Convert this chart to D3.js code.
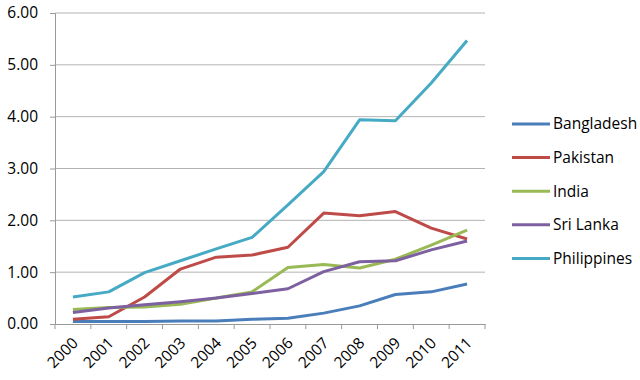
<!DOCTYPE html>
<html>
<head>
  <script src="https://d3js.org/d3.v7.min.js"></script>
  <style>
    body { margin: 0; background: #fff; }
    text { font-family: "Open Sans", "DejaVu Sans", sans-serif; fill: #000; }
  </style>
</head>
<body>
<svg id="chart" width="640" height="380"></svg>
<script>
const years = ["2000","2001","2002","2003","2004","2005","2006","2007","2008","2009","2010","2011"];
const yTicks = [0, 1, 2, 3, 4, 5, 6];

const bangladesh  = [0.05, 0.05, 0.05, 0.06, 0.06, 0.09, 0.11, 0.21, 0.35, 0.57, 0.62, 0.77];
const pakistan    = [0.09, 0.14, 0.52, 1.06, 1.29, 1.33, 1.48, 2.14, 2.09, 2.17, 1.85, 1.64];
const india       = [0.28, 0.32, 0.33, 0.38, 0.50, 0.62, 1.09, 1.15, 1.08, 1.25, 1.52, 1.81];
const sriLanka    = [0.22, 0.31, 0.37, 0.43, 0.50, 0.59, 0.68, 1.01, 1.20, 1.22, 1.43, 1.60];
const philippines = [0.52, 0.62, 0.99, 1.22, 1.45, 1.67, 2.30, 2.94, 3.94, 3.92, 4.65, 5.47];

const seriesNames  = ["Bangladesh", "Pakistan", "India", "Sri Lanka", "Philippines"];
const seriesValues = [bangladesh, pakistan, india, sriLanka, philippines];
const seriesColors = ["#4A7EBB", "#BE4B48", "#98B954", "#7D60A0", "#46AAC5"];

const svg = d3.select("#chart");
const plotLeft = 55, plotRight = 485, plotTop = 13, plotBottom = 324;

const x = d3.scaleBand().domain(years).range([plotLeft, plotRight]);
const y = d3.scaleLinear().domain([0, 6]).range([plotBottom, plotTop]);

// gridlines
svg.append("g")
  .selectAll("line")
  .data(yTicks.filter(d => d > 0))
  .enter().append("line")
  .attr("x1", plotLeft).attr("x2", plotRight)
  .attr("y1", d => y(d)).attr("y2", d => y(d))
  .attr("stroke", "#b3b3b3").attr("stroke-width", 1);

// y axis
const yAxis = svg.append("g")
  .attr("transform", `translate(${plotLeft},0)`)
  .call(d3.axisLeft(y).tickValues(yTicks).tickFormat(d3.format(".2f")).tickSize(5).tickPadding(12));
yAxis.select(".domain").attr("stroke", "#999");
yAxis.selectAll(".tick line").attr("stroke", "#999");
yAxis.selectAll("text").style("font-size", "15.5px");

// x axis
const xAxis = svg.append("g")
  .attr("transform", `translate(0,${plotBottom})`)
  .call(d3.axisBottom(x).tickSize(0).tickPadding(0));
xAxis.select(".domain").attr("stroke", "#999");
xAxis.selectAll(".tick line").remove();
xAxis.selectAll("text")
  .style("font-size", "15.5px")
  .attr("text-anchor", "end")
  .attr("dy", null)
  .attr("y", 0)
  .attr("transform", "translate(6,20) rotate(-45)");

// x tick marks at band boundaries
svg.append("g")
  .selectAll("line")
  .data(years.concat(["end"]))
  .enter().append("line")
  .attr("x1", (d, i) => plotLeft + i * x.bandwidth())
  .attr("x2", (d, i) => plotLeft + i * x.bandwidth())
  .attr("y1", plotBottom).attr("y2", plotBottom + 5)
  .attr("stroke", "#999");

// lines
const line = d3.line()
  .x((d, i) => x(years[i]) + x.bandwidth() / 2)
  .y(d => y(d));

svg.append("g")
  .selectAll("path")
  .data(seriesValues)
  .enter().append("path")
  .attr("d", line)
  .attr("fill", "none")
  .attr("stroke", (d, i) => seriesColors[i])
  .attr("stroke-width", 3)
  .attr("stroke-linejoin", "round");

// legend
const legend = svg.append("g")
  .selectAll("g")
  .data(seriesNames)
  .enter().append("g")
  .attr("transform", (d, i) => `translate(512,${124 + i * 33.6})`);

legend.append("line")
  .attr("x1", 0).attr("x2", 38)
  .attr("stroke", (d, i) => seriesColors[i])
  .attr("stroke-width", 3);

legend.append("text")
  .attr("x", 41).attr("dy", "0.35em")
  .style("font-size", "15.5px")
  .text(d => d);
</script>
</body>
</html>
